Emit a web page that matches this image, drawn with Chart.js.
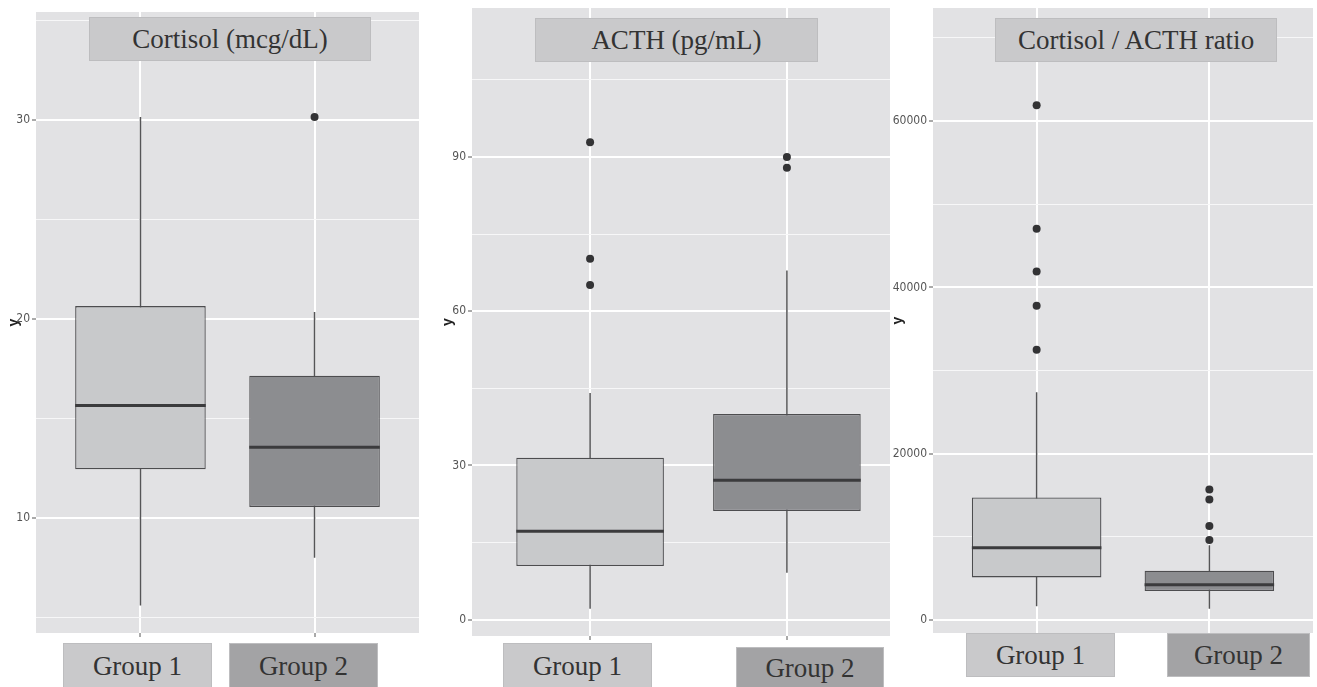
<!DOCTYPE html>
<html><head><meta charset="utf-8">
<script src="https://cdn.jsdelivr.net/npm/chart.js@4.4.1/dist/chart.umd.min.js"></script>
<style>
html,body{margin:0;padding:0;background:#fff;}
body{width:1317px;height:687px;position:relative;overflow:hidden;}
canvas{position:absolute;top:0;}
.lbl{position:absolute;box-sizing:border-box;text-align:center;font-family:'Liberation Serif','Times New Roman',serif;color:#333;white-space:nowrap;}
.title{font-size:27px;background:#c9c9cb;border:1px solid #bdbdbf;}
.grp{font-size:27px;border:1px solid #bdbdbf;}
</style></head><body>
<canvas id="c0" width="440" height="687"></canvas>
<canvas id="c1" width="470" height="687"></canvas>
<canvas id="c2" width="427" height="687"></canvas>
<script>
// ---------- data ----------
const categories = ['Group 1', 'Group 2'];
const panelTitles = ['Cortisol (mcg/dL)', 'ACTH (pg/mL)', 'Cortisol / ACTH ratio'];

const cortisolLow = [5.6, 8.0];
const cortisolQ1 = [12.45, 10.55];
const cortisolMedian = [15.65, 13.55];
const cortisolQ3 = [20.65, 17.15];
const cortisolHigh = [30.15, 20.35];
const cortisolOutliersG1 = [];
const cortisolOutliersG2 = [30.15];
const cortisolTicks = [10, 20, 30];

const acthLow = [2.1, 9.1];
const acthQ1 = [10.4, 21.1];
const acthMedian = [17.2, 27.1];
const acthQ3 = [31.5, 40.0];
const acthHigh = [44.1, 67.9];
const acthOutliersG1 = [65.1, 70.2, 92.9];
const acthOutliersG2 = [87.9, 90.0];
const acthTicks = [0, 30, 60, 90];

const ratioLow = [1650, 1350];
const ratioQ1 = [5130, 3500];
const ratioMedian = [8700, 4230];
const ratioQ3 = [14750, 5940];
const ratioHigh = [27400, 9000];
const ratioOutliersG1 = [32500, 37800, 41900, 47050, 61900];
const ratioOutliersG2 = [9620, 11300, 14500, 15700];
const ratioTicks = [0, 20000, 40000, 60000];

// ---------- styling / layout ----------
const BOX_WIDTH = 0.75;
const boxFills = ['#c8c9cb', '#8c8d90'];
const labelFills = ['#c9c9cb', '#a3a3a5'];
const PANEL_BG = '#e2e2e4';
const TICK_FONT = "'Liberation Sans Narrow','DejaVu Sans Condensed','Liberation Sans',sans-serif";

const panels = [
  { id:'c0', left:0, width:440, yMin:4.22, yMax:35.43, ticks:cortisolTicks, axisW:36, titlePad:6,
    pad:{left:0, top:12, right:21, bottom:50},
    low:cortisolLow, q1:cortisolQ1, med:cortisolMedian, q3:cortisolQ3, high:cortisolHigh,
    outliers:[cortisolOutliersG1, cortisolOutliersG2],
    titleBox:{l:89,t:17,w:282,h:44},
    groupBoxes:[{l:63,t:643,w:149,h:46},{l:229,t:643,w:149,h:46}] },
  { id:'c1', left:440, width:470, yMin:-3.2, yMax:119.0, ticks:acthTicks, axisW:32, titlePad:0,
    pad:{left:0, top:6, right:5, bottom:47},
    low:acthLow, q1:acthQ1, med:acthMedian, q3:acthQ3, high:acthHigh,
    outliers:[acthOutliersG1, acthOutliersG2],
    titleBox:{l:535,t:18,w:283,h:44},
    groupBoxes:[{l:503,t:643,w:149,h:46},{l:736,t:647,w:148,h:42}] },
  { id:'c2', left:890, width:427, yMin:-1558, yMax:73600, ticks:ratioTicks, axisW:43, titlePad:0, white:true,
    pad:{left:0, top:6, right:1, bottom:50},
    low:ratioLow, q1:ratioQ1, med:ratioMedian, q3:ratioQ3, high:ratioHigh,
    outliers:[ratioOutliersG1, ratioOutliersG2],
    titleBox:{l:995,t:18,w:282,h:44},
    groupBoxes:[{l:966,t:633,w:149,h:44},{l:1167,t:633,w:143,h:44}] }
];

const bgPlugin = {
  id: 'panelBg',
  beforeDraw(chart, args, opts) {
    const {ctx, chartArea:a} = chart;
    ctx.save();
    if (opts.white) { ctx.fillStyle = '#fff'; ctx.fillRect(0, 0, chart.width, chart.height); }
    ctx.fillStyle = PANEL_BG;
    ctx.fillRect(a.left, a.top, a.right - a.left, a.bottom - a.top);
    ctx.restore();
  }
};

function addBox(cls, b, text, bg) {
  const d = document.createElement('div');
  d.className = 'lbl ' + cls;
  d.style.left = b.l + 'px'; d.style.top = b.t + 'px';
  d.style.width = b.w + 'px'; d.style.height = b.h + 'px';
  d.style.lineHeight = (b.h - 2) + 'px';
  if (bg) d.style.background = bg;
  d.textContent = text;
  document.body.appendChild(d);
}

panels.forEach((p, pi) => {
  const cv = document.getElementById(p.id);
  cv.style.left = p.left + 'px';
  if (p.white) cv.style.background = '#fff';

  const step = p.ticks[1] - p.ticks[0];
  const minor = p.ticks.map(v => v - step / 2).concat([p.ticks[p.ticks.length - 1] + step / 2]);
  const allTicks = p.ticks.concat(minor).filter(v => v >= p.yMin && v <= p.yMax).sort((a, b) => a - b);
  const isMajor = v => p.ticks.includes(v);

  const whiskerData = [], medianData = [], outlierData = [];
  categories.forEach((c, i) => {
    const x = i + 1;
    whiskerData.push({x, y:p.low[i]}, {x, y:p.high[i]}, {x:x + 0.5, y:null});
    medianData.push({x:x - BOX_WIDTH / 2, y:p.med[i]}, {x:x + BOX_WIDTH / 2, y:p.med[i]}, {x:x + 0.5, y:null});
    p.outliers[i].forEach(v => outlierData.push({x, y:v}));
  });

  new Chart(cv, {
    type: 'bar',
    data: {
      datasets: [
        { type:'line', order:0, data:outlierData, showLine:false, pointRadius:4,
          pointBackgroundColor:'#333335', pointBorderWidth:0, pointHoverRadius:4 },
        { type:'line', order:1, data:medianData, borderColor:'#3b3b3d', borderWidth:3,
          pointRadius:0, spanGaps:false, fill:false, borderCapStyle:'butt' },
        { type:'bar', order:2,
          data: categories.map((c, i) => ({x:i + 1, y:[p.q1[i], p.q3[i]]})),
          backgroundColor: boxFills, borderColor:'#4d4d4f', borderWidth:1.3, borderSkipped:false,
          barPercentage: BOX_WIDTH, categoryPercentage: 1, grouped:false },
        { type:'line', order:3, data:whiskerData, borderColor:'#555557', borderWidth:1.5,
          pointRadius:0, spanGaps:false, fill:false }
      ]
    },
    options: {
      responsive:false, animation:false, devicePixelRatio:1, events:[],
      layout:{ padding:p.pad },
      plugins:{ legend:{display:false}, tooltip:{enabled:false}, panelBg:{white:!!p.white} },
      scales:{
        x:{ type:'linear', min:0.4, max:2.6, bounds:'data', offset:false,
            afterBuildTicks: s => { s.ticks = categories.map((c, i) => ({value:i + 1})); },
            afterFit: s => { s.height = 4; },
            ticks:{ display:false },
            border:{ display:false },
            grid:{ offset:false, color:'#ffffff', lineWidth:2, drawTicks:true, tickLength:4,
                   tickColor:'#555', tickWidth:1 } },
        y:{ type:'linear', min:p.yMin, max:p.yMax, bounds:'data',
            afterBuildTicks: s => { s.ticks = allTicks.map(v => ({value:v})); },
            afterFit: s => { s.width = p.axisW; },
            border:{ display:false },
            ticks:{ autoSkip:false, padding:2, color:'#555',
                    font:{ family:TICK_FONT, size:12, lineHeight:1 },
                    callback: v => isMajor(v) ? String(v) : '' },
            grid:{ color: c => (c.tick && isMajor(c.tick.value)) ? '#ffffff' : '#f7f7f8',
                   lineWidth: c => (c.tick && isMajor(c.tick.value)) ? 2 : 1,
                   drawTicks:true, tickLength:4, tickWidth:1,
                   tickColor: c => (c.tick && isMajor(c.tick.value)) ? '#555' : 'rgba(0,0,0,0)' },
            title:{ display:true, text:'y', color:'#222',
                    font:{ family:"'Liberation Sans',sans-serif", size:14, weight:'bold' },
                    padding:{ top:p.titlePad, bottom:0 } } }
      }
    },
    plugins:[bgPlugin]
  });

  addBox('title', p.titleBox, panelTitles[pi]);
  p.groupBoxes.forEach((b, i) => addBox('grp', b, categories[i], labelFills[i]));
});
</script></body></html>
